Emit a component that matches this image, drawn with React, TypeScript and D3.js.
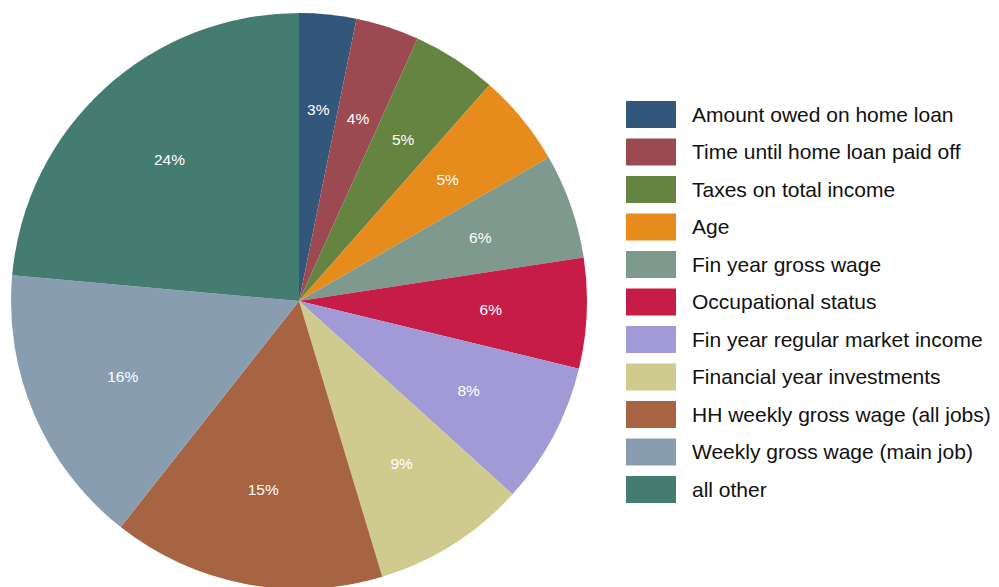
import React from "react";
import * as d3 from "d3";

const categories = [
  "Amount owed on home loan",
  "Time until home loan paid off",
  "Taxes on total income",
  "Age",
  "Fin year gross wage",
  "Occupational status",
  "Fin year regular market income",
  "Financial year investments",
  "HH weekly gross wage (all jobs)",
  "Weekly gross wage (main job)",
  "all other",
];
const values = [3.2, 3.55, 4.75, 5.2, 5.89, 6.19, 7.93, 8.62, 15.3, 15.8, 23.57];
const colors = [
  "#33577b",
  "#9b4a51",
  "#668441",
  "#e88b1d",
  "#7e998d",
  "#c81c48",
  "#a19ad6",
  "#cfca8d",
  "#a76442",
  "#899db1",
  "#447c72",
];

const W = 999;
const H = 587;
const cx = 299;
const cy = 301;
const R = 288;

export default function App() {
  const total = d3.sum(values);
  const pie = d3
    .pie<number>()
    .sort(null)
    .value((d) => d);
  const arcs = pie(values);
  const arcGen = d3.arc<d3.PieArcDatum<number>>().innerRadius(0).outerRadius(R);
  const labelArc = d3
    .arc<d3.PieArcDatum<number>>()
    .innerRadius(R * (2 / 3))
    .outerRadius(R * (2 / 3));
  const fmt = (v: number) => `${Math.round((v / total) * 100)}%`;
  const legendY = d3
    .scalePoint<string>()
    .domain(categories)
    .range([115, 490]);

  return (
    <svg
      width={W}
      height={H}
      style={{ position: "absolute", left: 0, top: 0, background: "#fff" }}
      fontFamily="'Liberation Sans', Arial, Helvetica, sans-serif"
    >
      <g transform={`translate(${cx},${cy})`}>
        {arcs.map((a, i) => (
          <path key={i} d={arcGen(a) || ""} fill={colors[i]} />
        ))}
        {arcs.map((a, i) => {
          const [x, y] = labelArc.centroid(a);
          return (
            <text
              key={"t" + i}
              x={x}
              y={y}
              fill="#fff"
              fontSize={15.5}
              textAnchor="middle"
              dominantBaseline="central"
            >
              {fmt(a.data)}
            </text>
          );
        })}
      </g>
      <g>
        {categories.map((c, i) => {
          const y = legendY(c) as number;
          return (
            <g key={c}>
              <rect x={626} y={y - 14} width={50} height={27} fill={colors[i]} />
              <text
                x={692}
                y={y - 1}
                fontSize={21}
                fill="#111"
                dominantBaseline="central"
              >
                {c}
              </text>
            </g>
          );
        })}
      </g>
    </svg>
  );
}
